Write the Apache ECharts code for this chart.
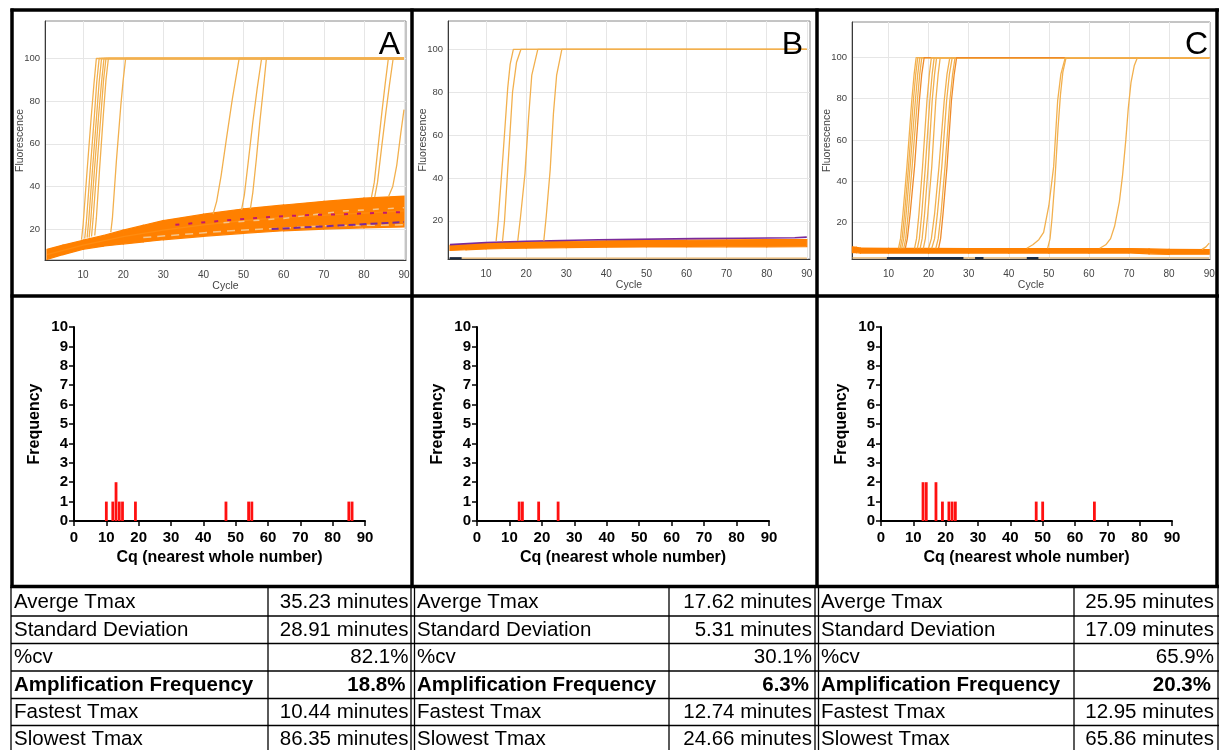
<!DOCTYPE html>
<html><head><meta charset="utf-8">
<script src="https://cdn.jsdelivr.net/npm/echarts@6.0.0/dist/echarts.min.js"></script>
<style>html,body{margin:0;padding:0;background:#fff;}#c{width:1219px;height:750px;}</style>
</head><body><div id="c"></div>
<script>
// ---------- tick labels ----------
const cycleTicks = [10, 20, 30, 40, 50, 60, 70, 80, 90];
const fluorTicks = [20, 40, 60, 80, 100];
const panelLetters = ['A', 'B', 'C'];

// ---------- baseline bands (non-amplified wells) ----------
const bandCyclesA = [1, 5, 10, 15, 20, 25, 30, 40, 50, 60, 70, 80, 90];
const bandLowA    = [5.8, 8, 10.5, 12, 13, 14, 15, 16.6, 18, 19.2, 20, 20.6, 21];
const bandHighA   = [10.5, 12.5, 14.8, 17, 19.5, 21.8, 24, 27, 29.5, 31.3, 33, 34.5, 35.5];
const bandCyclesB = [1, 5, 10, 15, 20, 30, 40, 50, 60, 70, 80, 90];
const bandLowB    = [6.2, 6.5, 6.9, 7.1, 7.3, 7.5, 7.7, 7.8, 7.8, 7.9, 7.9, 8.0];
const bandHighB   = [8.6, 9.1, 9.6, 9.9, 10.1, 10.4, 10.7, 10.9, 11.0, 11.1, 11.2, 11.3];
const bandCyclesC = [1, 2, 3, 10, 20, 30, 40, 50, 60, 70, 75, 80, 90];
const bandLowC    = [5.2, 5.2, 5.0, 5.0, 5.0, 5.0, 5.0, 5.0, 5.0, 5.0, 4.6, 4.4, 4.4];
const bandHighC   = [8.0, 7.8, 7.4, 7.3, 7.3, 7.2, 7.2, 7.2, 7.2, 7.2, 7.0, 6.8, 6.7];

// individual baseline traces
const purpleA  = [[57, 20], [65, 20.8], [75, 21.8], [82, 22.5], [90, 23.3]];
const magentaA = [[33, 22], [45, 24], [55, 25.5], [65, 26.5], [75, 27], [90, 28]];
const tanA1    = [[25, 16], [35, 17.5], [45, 19], [55, 20], [70, 21.5], [90, 22]];
const tanA2    = [[45, 23], [60, 25], [75, 28.5], [90, 30]];
const orangeA1 = [[1, 8], [10, 12.5], [20, 16.5], [30, 19.5], [40, 22], [50, 24], [60, 25.5], [70, 26.5], [80, 27.5], [90, 28.5]];
const purpleB  = [[1, 8.9], [10, 9.9], [20, 10.5], [38, 11.2], [62, 11.7], [74, 11.9], [87, 12.1], [90, 12.4]];
const floorB   = [[1, 2.6], [90, 2.6]];
const darkB    = [[0.9, 2.6], [3.9, 2.6]];
const floorC   = [[1, 2.6], [90, 2.6]];
const darkC    = [[9.6, 2.6], [28.7, 2.6], [28.8, '-'], [31.6, 2.6], [33.7, 2.6], [33.8, '-'], [44.5, 2.6], [47.4, 2.6]];

// ---------- amplification curves (cycle, fluorescence) ----------
const ampA = [
  [[9.6,15],[10.0,22],[10.9,45],[12.0,72],[12.7,88],[13.3,100],[90,100]],
  [[10.4,15.5],[10.8,23],[11.7,46],[12.8,73],[13.4,89],[14.0,100],[90,100]],
  [[11.0,16],[11.4,24],[12.3,47],[13.4,74],[14.0,89],[14.6,100],[90,100]],
  [[11.5,16],[11.9,24],[12.8,47],[13.9,74],[14.6,89],[15.2,100],[90,100]],
  [[12.1,16.5],[12.5,25],[13.4,48],[14.5,75],[15.1,90],[15.7,100],[90,100]],
  [[12.9,17],[13.3,25],[14.1,48],[15.1,75],[15.7,90],[16.3,100],[90,100]],
  [[16.9,18.5],[17.3,25],[18.3,52],[19.4,78],[20.0,90],[20.6,100],[90,100]],
  [[42.4,27],[43.3,33],[44.4,45],[45.7,62],[47.2,81],[48.9,100],[90,100]],
  [[49.5,29],[50.2,36],[51.2,52],[52.3,70],[53.4,86],[54.5,100],[90,100]],
  [[51.7,29.5],[52.3,37],[53.2,53],[54.1,71],[55.0,87],[55.7,100],[90,100]],
  [[81.9,35],[82.6,42],[83.5,58],[84.5,75],[85.3,88],[86.1,100],[90,100]],
  [[82.7,35],[83.4,42],[84.4,58],[85.5,75],[86.4,88],[87.3,100],[90,100]],
  [[86.1,35],[87.2,40],[88.2,50],[89.2,65],[90,76]]
];
const ampB = [
  [[12.5,10.5],[13.0,20],[14.2,50],[15.4,82],[16.0,93],[16.8,100],[90,100]],
  [[14.1,10.5],[14.6,20],[15.6,50],[16.6,80],[17.6,94],[18.7,100],[90,100]],
  [[17.9,10.6],[18.6,22],[19.7,42],[20.6,68],[21.4,88],[22.9,100],[90,100]],
  [[24.4,10.8],[25.0,22],[26.0,44],[26.8,70],[27.6,88],[28.9,100],[90,100]]
];
const ampC = [
  [[12.5,7.3],[13.0,12],[13.6,24],[14.6,47],[15.8,79],[16.4,92],[16.9,100],[90,100]],
  [[12.9,7.3],[13.4,12],[14.0,24],[15.0,47],[16.2,79],[16.8,92],[17.3,100],[90,100]],
  [[13.3,7.3],[13.8,12],[14.4,24],[15.4,47],[16.7,79],[17.3,92],[17.8,100],[90,100]],
  [[13.8,7.3],[14.3,12],[14.9,24],[15.9,47],[17.2,79],[17.8,92],[18.3,100],[90,100]],
  [[14.2,7.3],[14.7,12],[15.4,24],[16.5,47],[17.7,79],[18.3,92],[18.9,100],[90,100]],
  [[16.5,7.3],[17.0,12],[17.6,24],[18.5,47],[19.6,79],[20.2,92],[20.7,100],[90,100]],
  [[17.2,7.3],[17.7,12],[18.3,24],[19.2,47],[20.3,79],[20.9,92],[21.4,100],[90,100]],
  [[17.9,7.3],[18.4,12],[19.0,24],[19.9,47],[20.9,79],[21.5,92],[22.0,100],[90,100]],
  [[18.7,7.3],[19.2,12],[19.8,24],[20.8,47],[21.8,79],[22.4,92],[22.9,100],[90,100]],
  [[20.0,7.3],[20.7,12],[21.5,24],[22.6,47],[23.9,79],[24.6,92],[25.3,100],[90,100]],
  [[20.8,7.3],[21.5,12],[22.2,24],[23.3,47],[24.5,79],[25.2,92],[25.9,100],[90,100]],
  [[21.8,7.3],[22.4,12],[23.1,24],[24.1,47],[25.3,79],[26.0,92],[26.6,100],[90,100]],
  [[22.5,7.3],[23.0,12],[23.6,24],[24.6,47],[25.7,79],[26.4,92],[27.0,100],[90,100]],
  [[44.5,7.3],[46.0,9],[47.5,11.5],[48.7,15],[50.0,28],[51.2,47],[52.2,79],[53.0,92],[54.1,100],[90,100]],
  [[49.7,7.3],[50.3,12],[50.8,22],[51.5,40],[52.3,66],[52.9,82],[53.5,93],[54.3,100],[90,100]],
  [[62.7,7.3],[64.2,9],[65.4,12],[66.4,18],[67.6,30],[68.4,43],[69.2,60],[69.8,75],[70.5,88],[71.3,96],[72.1,100],[90,100]],
  [[88.2,6.8],[89.2,8],[90,9.8]]
];
const darkCurvesC = [4, 12];

// ---------- histograms: Cq (nearest whole number) and frequency ----------
const cqA   = [10, 12, 13, 14, 15, 19, 47, 54, 55, 85, 86];
const freqA = [1, 1, 2, 1, 1, 1, 1, 1, 1, 1, 1];
const cqB   = [13, 14, 19, 25];
const freqB = [1, 1, 1, 1];
const cqC   = [13, 14, 17, 19, 21, 22, 23, 48, 50, 66];
const freqC = [2, 2, 2, 1, 1, 1, 1, 1, 1, 1];

// ---------- table ----------
const tableLabels  = ['Averge Tmax', 'Standard Deviation', '%cv', 'Amplification Frequency', 'Fastest Tmax', 'Slowest Tmax'];
const tableValuesA = ['35.23 minutes', '28.91 minutes', '82.1%', '18.8%', '10.44 minutes', '86.35 minutes'];
const tableValuesB = ['17.62 minutes', '5.31 minutes', '30.1%', '6.3%', '12.74 minutes', '24.66 minutes'];
const tableValuesC = ['25.95 minutes', '17.09 minutes', '65.9%', '20.3%', '12.95 minutes', '65.86 minutes'];
const boldRow = 3;

// ================= build =================
const FONT = '"Liberation Sans", Arial, sans-serif';
const AMP = '#F2B04E';
const zip = (xs, ys) => xs.map((x, i) => [x, ys[i]]);

const grids = [
  {left: 45, top: 21, width: 361, height: 239, show: true, borderColor: '#8a8a8a', borderWidth: 1, backgroundColor: '#fff'},
  {left: 448, top: 21, width: 362, height: 238, show: true, borderColor: '#8a8a8a', borderWidth: 1, backgroundColor: '#fff'},
  {left: 852, top: 22, width: 358, height: 237, show: true, borderColor: '#8a8a8a', borderWidth: 1, backgroundColor: '#fff'},
  {left: 74, top: 327, width: 291, height: 194},
  {left: 477, top: 327, width: 292, height: 194},
  {left: 881, top: 327, width: 291, height: 194}
];
const topRanges = [[0.5, 90.5, 5.5, 117.6], [0.5, 90.8, 2.2, 113.2], [0.9, 90.2, 2.1, 117.3]];

const xAxes = [], yAxes = [];
topRanges.forEach((r, i) => {
  xAxes.push({
    gridIndex: i, type: 'value', min: r[0], max: r[1],
    axisLine: {onZero: false, lineStyle: {color: '#3a3a3a', width: 1}},
    axisTick: {show: false, customValues: cycleTicks},
    axisLabel: {customValues: cycleTicks, fontSize: 10, color: '#444', margin: 10, fontFamily: FONT},
    splitLine: {show: true, lineStyle: {color: '#e6e6e6', width: 1}},
    name: 'Cycle', nameLocation: 'middle', nameGap: 21, nameMoveOverlap: false,
    nameTextStyle: {fontSize: 10.5, color: '#444', fontFamily: FONT}
  });
  yAxes.push({
    gridIndex: i, type: 'value', min: r[2], max: r[3],
    axisLine: {onZero: false, lineStyle: {color: '#3a3a3a', width: 1}},
    axisTick: {show: false, customValues: fluorTicks},
    axisLabel: {customValues: fluorTicks, fontSize: 9.5, color: '#444', margin: 5, fontFamily: FONT},
    splitLine: {show: true, lineStyle: {color: '#e6e6e6', width: 1}},
    name: 'Fluorescence', nameLocation: 'middle', nameGap: 19, nameMoveOverlap: false,
    nameTextStyle: {fontSize: 10.5, color: '#444', fontFamily: FONT}
  });
});
for (let i = 3; i < 6; i++) {
  xAxes.push({
    gridIndex: i, type: 'value', min: 0, max: 90, interval: 10,
    axisLine: {onZero: false, lineStyle: {color: '#000', width: 2}},
    axisTick: {show: true, length: 5, lineStyle: {color: '#000', width: 1.5}},
    axisLabel: {fontSize: 15, fontWeight: 'bold', color: '#000', margin: 9, fontFamily: FONT},
    splitLine: {show: false},
    name: 'Cq (nearest whole number)', nameLocation: 'middle', nameGap: 29, nameMoveOverlap: false,
    nameTextStyle: {fontSize: 16, fontWeight: 'bold', color: '#000', fontFamily: FONT}
  });
  yAxes.push({
    gridIndex: i, type: 'value', min: 0, max: 10, interval: 1,
    axisLine: {onZero: false, lineStyle: {color: '#000', width: 2}},
    axisTick: {show: true, length: 5, lineStyle: {color: '#000', width: 1.5}},
    axisLabel: {fontSize: 15, fontWeight: 'bold', color: '#000', margin: 6, fontFamily: FONT},
    splitLine: {show: false},
    name: 'Frequency', nameLocation: 'middle', nameGap: 31, nameMoveOverlap: false,
    nameTextStyle: {fontSize: 16, fontWeight: 'bold', color: '#000', fontFamily: FONT}
  });
}

const series = [];
function line(idx, data, color, width, extra) {
  series.push(Object.assign({
    type: 'line', xAxisIndex: idx, yAxisIndex: idx, data: data, symbol: 'none',
    lineStyle: {color: color, width: width}, silent: true, z: 3
  }, extra || {}));
}
// band drawn as polygons between consecutive (cycle, low, high) samples via the axis scales
function band(idx, cycles, low, high) {
  const rows = [];
  for (let i = 0; i < cycles.length - 1; i++) {
    rows.push([cycles[i], low[i], high[i], cycles[i + 1], low[i + 1], high[i + 1]]);
  }
  series.push({
    type: 'custom', xAxisIndex: idx, yAxisIndex: idx, silent: true, z: 2, data: rows,
    encode: {x: [0, 3], y: [1, 2, 4, 5]},
    renderItem: function (params, api) {
      const p0 = api.coord([api.value(0), api.value(2)]);
      const p1 = api.coord([api.value(3), api.value(5)]);
      const p2 = api.coord([api.value(3), api.value(4)]);
      const p3 = api.coord([api.value(0), api.value(1)]);
      return {type: 'polygon', shape: {points: [p0, p1, p2, p3]},
        style: {fill: '#FF8000', stroke: '#FF8000', lineWidth: 1.2}};
    }
  });
}

// Panel A
band(0, bandCyclesA, bandLowA, bandHighA);
line(0, orangeA1, '#FF8C10', 1.2);
line(0, tanA1, '#F5C48A', 1.5, {lineStyle: {color: '#F5C48A', width: 1.5, type: [8, 6]}});
line(0, tanA2, '#F5C48A', 1.5, {lineStyle: {color: '#F5C48A', width: 1.5, type: [6, 9]}});
line(0, magentaA, '#C2186B', 2, {lineStyle: {color: '#C2186B', width: 2, type: [4, 9]}});
line(0, purpleA, '#7A2A9A', 2, {lineStyle: {color: '#7A2A9A', width: 2, type: [7, 4]}});
ampA.forEach(d => line(0, d, AMP, 1.3));
// Panel B
line(1, floorB, '#E9B46A', 1.2);
line(1, darkB, '#1b2a40', 2);
band(1, bandCyclesB, bandLowB, bandHighB);
line(1, purpleB, '#7A2A9A', 1.6);
ampB.forEach(d => line(1, d, AMP, 1.3));
// Panel C
line(2, floorC, '#E9B46A', 1.2);
line(2, darkC, '#1b2a40', 2, {connectNulls: false});
band(2, bandCyclesC, bandLowC, bandHighC);
ampC.forEach((d, k) => line(2, d, darkCurvesC.indexOf(k) >= 0 ? '#EE8A2A' : AMP, 1.3));

// Histograms
[[cqA, freqA], [cqB, freqB], [cqC, freqC]].forEach((h, i) => {
  series.push({type: 'bar', xAxisIndex: 3 + i, yAxisIndex: 3 + i, data: zip(h[0], h[1]),
    barWidth: 2.8, itemStyle: {color: '#FF1010'}, silent: true, z: 3});
});

// Graphic: panel letters, borders, table
const G = [];
const letterRight = [400, 803, 1208];
panelLetters.forEach((t, i) => G.push({type: 'text', z: 50,
  style: {text: t, x: letterRight[i], y: 29, align: 'right', verticalAlign: 'top', font: '32px ' + FONT, fill: '#000'}}));

[12, 412, 817, 1217].forEach(x => G.push({type: 'line', z: 40,
  shape: {x1: x, y1: 8.5, x2: x, y2: 588}, style: {stroke: '#000', lineWidth: 3.5}}));
[10, 296, 586.5].forEach(y => G.push({type: 'line', z: 40,
  shape: {x1: 10.5, y1: y, x2: 1219, y2: y}, style: {stroke: '#000', lineWidth: 3.5}}));

const rowLines = [616, 643.5, 671, 698.5, 725.5, 752.5];
rowLines.forEach(y => G.push({type: 'line', z: 40,
  shape: {x1: 11, y1: y, x2: 1219, y2: y}, style: {stroke: '#000', lineWidth: 1.3}}));
[11, 268, 411, 414.5, 669, 815, 818.5, 1074, 1218].forEach(x => G.push({type: 'line', z: 40,
  shape: {x1: x, y1: 587, x2: x, y2: 750}, style: {stroke: '#000', lineWidth: 1.3}}));

const rowCenters = [602, 630, 657.5, 685, 712, 739.5];
const labelX = [14, 417, 821];
const valueX = [408.5, 812, 1214];
[tableValuesA, tableValuesB, tableValuesC].forEach((vals, p) => {
  tableLabels.forEach((lab, r) => {
    const b = r === boldRow;
    G.push({type: 'text', z: 45, style: {text: lab, x: labelX[p], y: rowCenters[r], align: 'left', verticalAlign: 'middle',
      font: (b ? 'bold ' : '') + '20.5px ' + FONT, fill: '#000'}});
    G.push({type: 'text', z: 45, style: {text: vals[r], x: valueX[p] - (b ? 3 : 0), y: rowCenters[r], align: 'right', verticalAlign: 'middle',
      font: (b ? 'bold ' : '') + '20.5px ' + FONT, fill: '#000'}});
  });
});

const chart = echarts.init(document.getElementById('c'), null, {renderer: 'canvas'});
chart.setOption({
  animation: false,
  backgroundColor: '#fff',
  textStyle: {fontFamily: FONT},
  grid: grids,
  xAxis: xAxes,
  yAxis: yAxes,
  series: series,
  graphic: G
});
</script></body></html>
